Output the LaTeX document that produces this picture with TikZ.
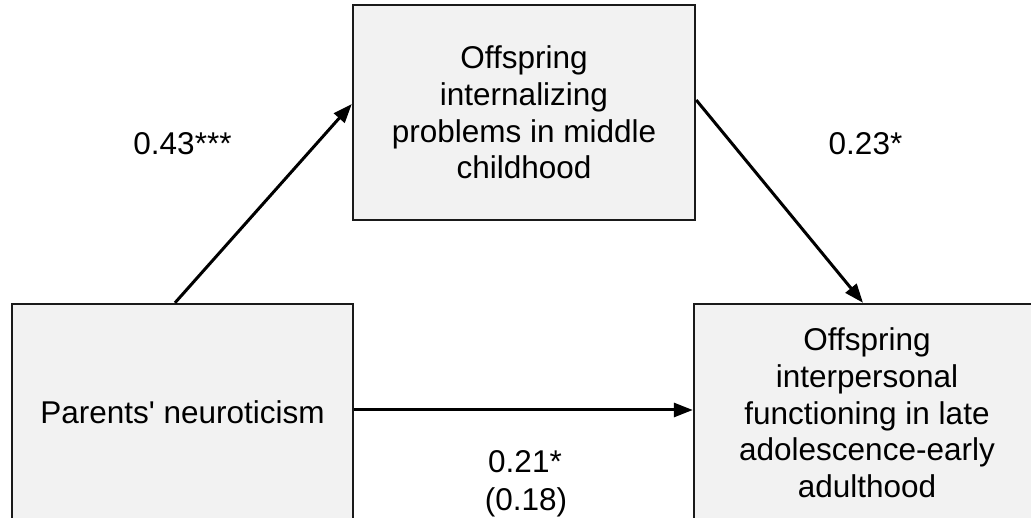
\documentclass[tikz,border=0pt]{standalone}
\usepackage{fontspec}
\setmainfont{Liberation Sans}[Ligatures=TeXOff]
\usetikzlibrary{arrows.meta,calc}
\definecolor{boxfill}{HTML}{F2F2F2}
\definecolor{edge}{HTML}{1A1A1A}
\tikzset{
  varbox/.style={draw=edge, line width=2.4pt, fill=boxfill, align=center, inner sep=0pt,
    font=\fontsize{31.5}{36.7}\selectfont},
  path/.style={line width=3pt, draw=black, -{Triangle[length=19pt,width=14pt]}},
  coef/.style={font=\fontsize{31.5}{34}\selectfont, inner sep=0pt, anchor=base}
}
\begin{document}
\begin{tikzpicture}[x=1pt,y=-1pt]
\useasboundingbox (0,0) rectangle (1031,518);
\clip (0,0) rectangle (1031,518);
\node[varbox, minimum width=342pt, minimum height=215pt] (mid) at (524,112.5)
  {Offspring\\internalizing\\problems in middle\\childhood};
\node[varbox, minimum width=341pt, minimum height=218pt] (par) at (182.5,413)
  {\raisebox{2pt}{Parents' neuroticism}};
\node[varbox, minimum width=346pt, minimum height=218pt] (out) at (867,413)
  {Offspring\\interpersonal\\functioning in late\\adolescence-early\\adulthood};
\draw[path] ([xshift=-7.5pt]par.north) -- ([yshift=8.5pt]mid.west);
\draw[path] ([yshift=12.5pt]mid.east) -- ([xshift=-4pt]out.north);
\draw[path] ([yshift=3pt]par.east) -- ([yshift=3pt]out.west);
\node[coef] (a) at (182.5,155) {0.43***};
\node[coef] (b) at (865.5,155) {0.23*};
\node[coef] (c1) at (525,472) {0.21*};
\node[coef] (c2) at (526,510) {(0.18)};
\end{tikzpicture}
\end{document}
